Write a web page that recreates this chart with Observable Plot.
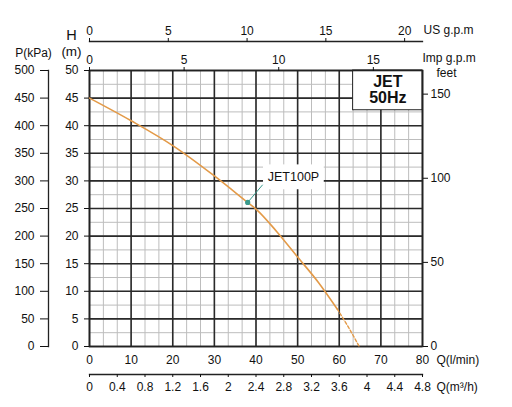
<!DOCTYPE html>
<html><head><meta charset="utf-8">
<script src="https://cdn.jsdelivr.net/npm/d3@7"></script>
<script src="https://cdn.jsdelivr.net/npm/@observablehq/plot@0.6"></script>
<style>body{margin:0;background:#fff} svg{display:block}</style>
</head><body><div id="chart"></div>
<script>
// Pump curve JET100P (Q in l/min, H in m)
const flowSolid = [0, 10, 20, 30, 38, 40, 45, 50, 55, 59.5];
const headSolid = [45, 40.9, 36.4, 30.9, 26.1, 24.9, 20.8, 16.2, 11.6, 6.8];
const flowDashed = [59.5, 62.2, 64.8];
const headDashed = [6.8, 3.5, 0];
const markerFlow = [38];
const markerHead = [26.1];
const markerLabel = ["JET100P"];
const labelFlow = [49];
const labelHead = [30.7];

// axis ticks
const lpmTicks = [0, 10, 20, 30, 40, 50, 60, 70, 80];
const headTicks = [0, 5, 10, 15, 20, 25, 30, 35, 40, 45, 50];
const usTicks = [0, 5, 10, 15, 20];
const impTicks = [0, 5, 10, 15];
const m3hTicks = [0, 0.4, 0.8, 1.2, 1.6, 2, 2.4, 2.8, 3.2, 3.6, 4, 4.4, 4.8];
const feetTicks = [0, 50, 100, 150];
const majorFlow = [0, 10, 20, 30, 40, 50, 60, 70, 80];
const majorHead = [0, 5, 10, 15, 20, 25, 30, 35, 40, 45, 50];
const minorFlow = d3.range(0, 80.001, 10 / 3);
const minorHead = d3.range(0, 50.001, 2.5);

// unit conversions
const LPM_PER_USGPM = 3.785411784;
const LPM_PER_IMPGPM = 4.54609;
const LPM_PER_M3H = 1000 / 60;
const M_PER_FT = 0.3048;

const solid = flowSolid.map((q, i) => ({q, h: headSolid[i]}));
const dashed = flowDashed.map((q, i) => ({q, h: headDashed[i]}));
const marker = markerFlow.map((q, i) => ({q, h: markerHead[i], label: markerLabel[i], lq: labelFlow[i], lh: labelHead[i]}));
const badge = [{x1: 63.33, x2: 80, y1: 42.8, y2: 50, text: "JET\n50Hz"}];

const ORANGE = "#e39a48";
const TEAL = "#3a9a8c";
const FONT = "Liberation Sans, Arial, sans-serif";

const fmt = v => String(Math.round(v * 10) / 10);
const title = (s, frameAnchor, dx, dy, fontSize, textAnchor = "middle") =>
  Plot.text([s], {text: d => d, frameAnchor, dx, dy, fontSize, textAnchor, lineAnchor: "middle", fill: "#111"});

const chart = Plot.plot({
  width: 512,
  height: 407,
  marginLeft: 89,
  marginRight: 90,
  marginTop: 70,
  marginBottom: 61,
  x: {domain: [0, 80], label: null},
  y: {domain: [0, 50], label: null},
  style: {fontFamily: FONT, fontSize: "12px", color: "#111", background: "#fff", overflow: "visible"},
  marks: [
    Plot.gridX(minorFlow, {stroke: "#bdbdbd", strokeOpacity: 1, strokeWidth: 1}),
    Plot.gridY(minorHead, {stroke: "#bdbdbd", strokeOpacity: 1, strokeWidth: 1}),
    Plot.gridX(majorFlow, {stroke: "#2a2a2a", strokeOpacity: 1, strokeWidth: 1.6}),
    Plot.gridY(majorHead, {stroke: "#2a2a2a", strokeOpacity: 1, strokeWidth: 1.6}),
    // label boxes covering grid
    Plot.rect(badge, {x1: "x1", x2: "x2", y1: "y1", y2: "y2", fill: "#fff", stroke: "#222", strokeWidth: 1}),
    Plot.rect(marker, {x1: d => d.lq - 7.2, x2: d => d.lq + 7.4, y1: d => d.lh - 2.3, y2: d => d.lh + 2.2, fill: "#fff"}),
    Plot.frame({stroke: "#222", strokeWidth: 1.6}),
    // curve
    Plot.line(solid, {x: "q", y: "h", stroke: ORANGE, strokeWidth: 1.6, curve: "monotone-x"}),
    Plot.line(dashed, {x: "q", y: "h", stroke: ORANGE, strokeWidth: 1.4, strokeDasharray: "3,2", curve: "monotone-x"}),
    Plot.link(marker, {x1: "q", y1: "h", x2: d => d.lq - 7.4, y2: d => d.lh - 1.4, stroke: TEAL, strokeWidth: 1}),
    Plot.dot(marker, {x: "q", y: "h", r: 2.6, fill: TEAL}),
    Plot.text(marker, {x: "lq", y: "lh", text: "label", fontSize: 12.5, fill: "#111"}),
    Plot.text(badge, {x: d => (d.x1 + d.x2) / 2, y: d => (d.y1 + d.y2) / 2, text: "text", fontSize: 16, fontWeight: "bold", lineHeight: 1.0, fill: "#111"}),
    // bottom l/min axis
    Plot.axisX(lpmTicks, {anchor: "bottom", tickSize: 0, tickPadding: 9, label: null, fontSize: 12}),
    // bottom m3/h axis
    Plot.frame({anchor: "bottom", dy: 28, stroke: "#222", strokeWidth: 1.3}),
    Plot.axisX(m3hTicks.map(v => v * LPM_PER_M3H), {anchor: "bottom", dy: 28, tickSize: 3, tickPadding: 5, label: null, fontSize: 12, tickFormat: v => fmt(v / LPM_PER_M3H)}),
    // top Imp g.p.m axis
    Plot.axisX(impTicks.map(v => v * LPM_PER_IMPGPM), {anchor: "top", tickSize: 4, tickPadding: 3, label: null, fontSize: 12, tickFormat: v => fmt(v / LPM_PER_IMPGPM)}),
    // top US g.p.m axis
    Plot.frame({anchor: "top", dy: -29, stroke: "#222", strokeWidth: 1.3}),
    Plot.axisX(usTicks.map(v => v * LPM_PER_USGPM), {anchor: "top", dy: -29, tickSize: 4, tickPadding: 3, label: null, fontSize: 12, tickFormat: v => fmt(v / LPM_PER_USGPM)}),
    // left H axis
    Plot.axisY(headTicks, {anchor: "left", tickSize: 5, tickPadding: 6, label: null, fontSize: 12}),
    // left P axis (kPa)
    Plot.frame({anchor: "left", dx: -41, stroke: "#222", strokeWidth: 1.3}),
    Plot.axisY(headTicks, {anchor: "left", dx: -41, tickSize: 8, tickPadding: 6, label: null, fontSize: 12, tickFormat: v => String(v * 10)}),
    // right feet axis
    Plot.axisY(feetTicks.map(v => v * M_PER_FT), {anchor: "right", tickSize: 5, tickPadding: 3, label: null, fontSize: 12, tickFormat: v => fmt(v / M_PER_FT)}),
    // axis titles
    title("H", "top-left", -18, -35, 14.5),
    title("(m)", "top-left", -18, -19, 13.5),
    title("P(kPa)", "top-left", -56, -17, 12),
    title("US g.p.m", "top-right", 1, -40, 12, "start"),
    title("Imp g.p.m", "top-right", 0, -12.5, 12, "start"),
    title("feet", "top-right", 24, 3, 12),
    title("Q(l/min)", "bottom-right", 14, 14, 12, "start"),
    title("Q(m³/h)", "bottom-right", 14, 41, 12, "start")
  ]
});
document.getElementById("chart").appendChild(chart);
</script>
</body></html>
